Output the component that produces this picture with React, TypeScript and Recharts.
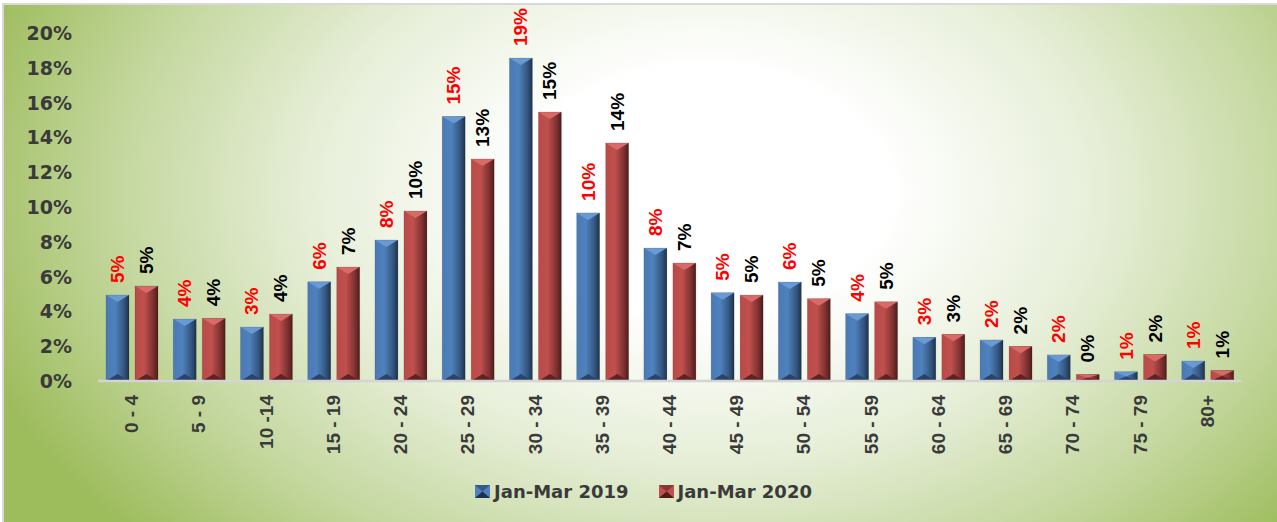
import React from 'react';
import { BarChart, Bar, XAxis, YAxis, LabelList } from 'recharts';

const ageGroups = ['0 - 4', '5 - 9', '10 -14', '15 - 19', '20 - 24', '25 - 29', '30 - 34', '35 - 39', '40 - 44', '45 - 49', '50 - 54', '55 - 59', '60 - 64', '65 - 69', '70 - 74', '75 - 79', '80+'];
const share2019 = [4.94, 3.56, 3.1, 5.7, 8.1, 15.2, 18.56, 9.66, 7.64, 5.07, 5.69, 3.87, 2.51, 2.36, 1.5, 0.53, 1.15];
const share2020 = [5.46, 3.6, 3.85, 6.55, 9.77, 12.76, 15.46, 13.68, 6.78, 4.94, 4.73, 4.55, 2.68, 1.99, 0.38, 1.53, 0.61];
const yTicks = [0, 2, 4, 6, 8, 10, 12, 14, 16, 18, 20];
const seriesNames = ['Jan-Mar 2019', 'Jan-Mar 2020'];

const data = ageGroups.map((g, i) => ({ group: g, y2019: share2019[i], y2020: share2020[i] }));

const tickFont = '"DejaVu Sans", Verdana, sans-serif';
const labelFont = '"Liberation Sans", Arial, sans-serif';

// bar with a bevelled look, like the office 3d style
const bevelBar = (gradId: string, topColor: string, bottomColor: string) => (props: any) => {
  const { x, y, width, height } = props;
  if (!height || height <= 0) return null;
  const b = Math.min(7, height / 2);
  return (
    <g>
      <rect x={x} y={y} width={width} height={height} fill={`url(#${gradId})`} />
      <polygon points={`${x},${y} ${x + width},${y} ${x + width / 2},${y + b}`} fill={topColor} />
      <polygon points={`${x},${y + height} ${x + width},${y + height} ${x + width / 2},${y + height - b}`} fill={bottomColor} />
      <rect x={x} y={y} width={width} height={height} fill="none" stroke="rgba(0,0,0,0.15)" strokeWidth={0.8} />
    </g>
  );
};

const valueLabel = (color: string) => (props: any) => {
  const { x, y, width, value } = props;
  const cx = x + width / 2;
  const cy = y - 12;
  return (
    <text
      x={cx}
      y={cy}
      transform={`rotate(-90, ${cx}, ${cy})`}
      textAnchor="start"
      dominantBaseline="central"
      fill={color}
      fontFamily={labelFont}
      fontWeight="bold"
      fontSize={19}
    >
      {Math.round(value)}%
    </text>
  );
};

const YTick = (props: any) => {
  const { y, payload } = props;
  return (
    <text x={72} y={y} textAnchor="end" dominantBaseline="central" fill="#3a3a3a" fontFamily={tickFont} fontWeight="bold" fontSize={19}>
      {payload.value}%
    </text>
  );
};

const XTick = (props: any) => {
  const { x, y, payload } = props;
  return (
    <text
      x={x}
      y={y}
      transform={`rotate(-90, ${x}, ${y})`}
      textAnchor="end"
      dominantBaseline="central"
      fill="#3a3a3a"
      fontFamily={labelFont}
      fontWeight="bold"
      fontSize={19}
    >
      {payload.value}
    </text>
  );
};

const LegendBox = ({ color, dark }: { color: string; dark: string }) => (
  <svg width={15} height={13} style={{ marginRight: 4 }}>
    <rect x={0} y={0} width={15} height={13} fill={color} />
    <polygon points="0,0 15,0 7.5,6.5" fill={dark} opacity={0.5} />
    <polygon points="0,13 15,13 7.5,6.5" fill={dark} />
  </svg>
);

export default function App() {
  return (
    <div style={{ position: 'absolute', left: 0, top: 0, width: 1277, height: 522, background: '#fff', overflow: 'hidden' }}>
      <div
        style={{
          position: 'absolute',
          left: 2,
          top: 3,
          width: 1275,
          height: 519,
          borderLeft: '2px solid #d9d9d9',
          borderTop: '2px solid #d9d9d9',
          background: 'radial-gradient(ellipse 60% 100% at 55% 36%, #ffffff 0%, #ffffff 24%, #e6eed7 52%, #c5d8a0 76%, #9dbc5c 100%)',
        }}
      />
      <div style={{ position: 'absolute', left: 0, top: 0 }}>
        <BarChart width={1277} height={522} data={data} margin={{ top: 33, right: 36, left: 0, bottom: 0 }} barCategoryGap={8} barGap={6}>
          <defs>
            <linearGradient id="gBlue" x1="0" y1="0" x2="1" y2="0">
              <stop offset="0%" stopColor="#4a7ab5" />
              <stop offset="40%" stopColor="#4f81bd" />
              <stop offset="78%" stopColor="#34577f" />
              <stop offset="100%" stopColor="#1d324e" />
            </linearGradient>
            <linearGradient id="gRed" x1="0" y1="0" x2="1" y2="0">
              <stop offset="0%" stopColor="#b84a47" />
              <stop offset="40%" stopColor="#c0504d" />
              <stop offset="78%" stopColor="#803231" />
              <stop offset="100%" stopColor="#4e1c1b" />
            </linearGradient>
          </defs>
          <XAxis
            dataKey="group"
            height={141}
            interval={0}
            tick={<XTick />}
            tickLine={false}
            tickSize={0}
            tickMargin={14}
            axisLine={{ stroke: '#d4d4d4', strokeWidth: 2.5 }}
          />
          <YAxis width={98} domain={[0, 20]} ticks={yTicks} tick={<YTick />} axisLine={false} tickLine={false} />
          <Bar dataKey="y2019" name={seriesNames[0]} isAnimationActive={false} shape={bevelBar('gBlue', '#6a9ad4', '#2a4468')}>
            <LabelList dataKey="y2019" content={valueLabel('#ff0000')} />
          </Bar>
          <Bar dataKey="y2020" name={seriesNames[1]} isAnimationActive={false} shape={bevelBar('gRed', '#d86b68', '#5e2322')}>
            <LabelList dataKey="y2020" content={valueLabel('#000000')} />
          </Bar>
        </BarChart>
      </div>
      <div
        style={{
          position: 'absolute',
          left: 0,
          top: 481,
          width: 1277,
          display: 'flex',
          justifyContent: 'center',
          alignItems: 'center',
          fontFamily: tickFont,
          fontWeight: 'bold',
          fontSize: 18,
          color: '#3a3a3a',
          paddingLeft: 10,
          boxSizing: 'border-box',
        }}
      >
        <span style={{ display: 'flex', alignItems: 'center', marginRight: 30 }}>
          <LegendBox color="#4f81bd" dark="#1d324e" />
          {seriesNames[0]}
        </span>
        <span style={{ display: 'flex', alignItems: 'center' }}>
          <LegendBox color="#c0504d" dark="#4e1c1b" />
          {seriesNames[1]}
        </span>
      </div>
    </div>
  );
}
